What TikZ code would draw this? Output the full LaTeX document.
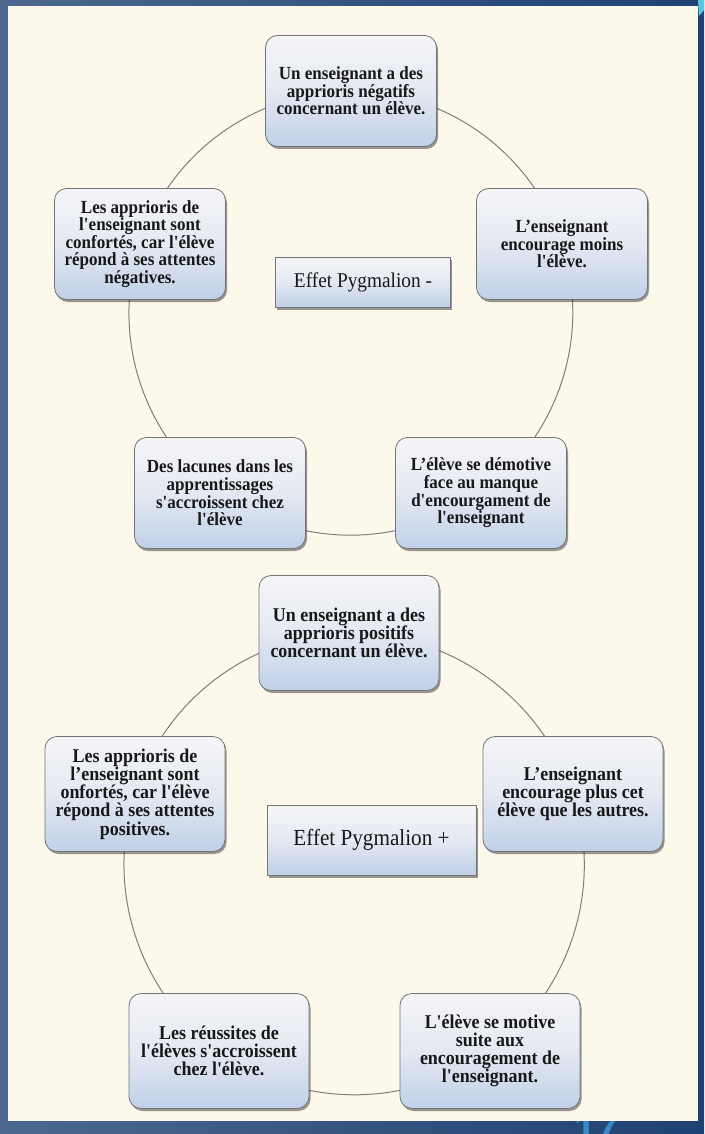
\documentclass[tikz,border=0pt]{standalone}
\usepackage{fontspec}
\setmainfont{Liberation Serif}[Ligatures=TeXOff]
\newfontfamily\boxfont{Liberation Serif}[Ligatures=TeXOff, FakeStretch=0.92]
\newfontfamily\numfont{Liberation Sans}
\usetikzlibrary{shadows}
\definecolor{panel}{RGB}{252,249,236}
\definecolor{bgL}{RGB}{76,104,142}
\definecolor{bgR}{RGB}{30,66,115}
\definecolor{boxtop}{RGB}{245,245,247}
\definecolor{boxmid}{RGB}{228,233,242}
\definecolor{boxbot}{RGB}{192,208,232}
\definecolor{boxline}{RGB}{115,115,120}
\definecolor{arccol}{RGB}{125,125,125}
\definecolor{txt}{RGB}{24,24,24}
\definecolor{pnum}{RGB}{56,138,200}
\definecolor{accent}{RGB}{90,200,225}
\pgfdeclarelayer{bglayer}
\pgfdeclarelayer{edgelayer}
\pgfsetlayers{bglayer,edgelayer,main}
\tikzset{
  cbox/.style={draw=boxline, line width=0.8pt, rounded corners=12pt,
    top color=boxtop, bottom color=boxbot, middle color=boxmid,
    drop shadow={shadow xshift=1.5pt, shadow yshift=-2.5pt, opacity=0.4, fill=black},
    align=center, text=txt, inner sep=2pt},
  boxA/.style={cbox, minimum width=171pt, minimum height=111pt,
    font=\boxfont\fontsize{18.5}{17.6}\selectfont\bfseries},
  boxB/.style={cbox, minimum width=180pt, minimum height=115pt,
    font=\boxfont\fontsize{19.5}{18.2}\selectfont\bfseries},
  titlebox/.style={draw=boxline, line width=0.8pt,
    top color=boxtop, bottom color=boxbot, middle color=boxmid,
    drop shadow={shadow xshift=1.5pt, shadow yshift=-2.5pt, opacity=0.4, fill=black},
    text=txt, inner sep=0pt},
  cycarc/.style={draw=arccol, line width=1pt, bend left=36, looseness=0.94},
}
\begin{document}
\begin{tikzpicture}[x=1pt,y=-1pt]
\useasboundingbox (0,0) rectangle (704,1134);
\begin{pgfonlayer}{bglayer}
  \fill[left color=bgL, right color=bgR] (0,0) rectangle (704,1134);
  \node[anchor=base west, inner sep=0pt, text=pnum,
        font={\numfont\fontsize{40}{40}\selectfont\bfseries}] (pnum) at (574,1142) {17};
  \fill[panel] (8,6) rectangle (698,1121);
  \fill[accent] (698,0) -- (704,0) -- (704,10) -- (699,16) -- cycle;
\end{pgfonlayer}

% ---- Effet Pygmalion - ----
\node[boxA] (t1) at (351,91) {Un enseignant a des\\apprioris négatifs\\concernant un élève.};
\node[boxA] (r1) at (562,244) {L’enseignant\\encourage moins\\l'élève.};
\node[boxA] (br1) at (481,493) {L’élève se démotive\\face au manque\\d'encourgament de\\l'enseignant};
\node[boxA] (bl1) at (220,493) {Des lacunes dans les\\apprentissages\\s'accroissent chez\\l'élève};
\node[boxA] (l1) at (140,244) {Les apprioris de\\l'enseignant sont\\confortés, car l'élève\\répond à ses attentes\\négatives.};
\node[titlebox, minimum width=175pt, minimum height=50pt,
      font=\boxfont\fontsize{21}{22}\selectfont] (c1) at (363,282) {Effet Pygmalion -};

% ---- Effet Pygmalion + ----
\node[boxB] (t2) at (349,633) {Un enseignant a des\\apprioris positifs\\concernant un élève.};
\node[boxB] (r2) at (573,794) {L’enseignant\\encourage plus cet\\élève que les autres.};
\node[boxB] (br2) at (490,1051) {L'élève se motive\\suite aux\\encouragement de\\l'enseignant.};
\node[boxB] (bl2) at (219,1051) {Les réussites de\\l'élèves s'accroissent\\chez l'élève.};
\node[boxB] (l2) at (135,794) {Les apprioris de\\l’enseignant sont\\onfortés, car l'élève\\répond à ses attentes\\positives.};
\node[titlebox, minimum width=209pt, minimum height=70pt,
      font=\boxfont\fontsize{23}{24}\selectfont] (c2) at (371.5,840) {Effet Pygmalion +};

\begin{pgfonlayer}{edgelayer}
  \draw[cycarc] (t1.center) to (r1.center) to (br1.center) to (bl1.center) to (l1.center) to (t1.center);
  \draw[cycarc] (t2.center) to (r2.center) to (br2.center) to (bl2.center) to (l2.center) to (t2.center);
\end{pgfonlayer}
\end{tikzpicture}
\end{document}
